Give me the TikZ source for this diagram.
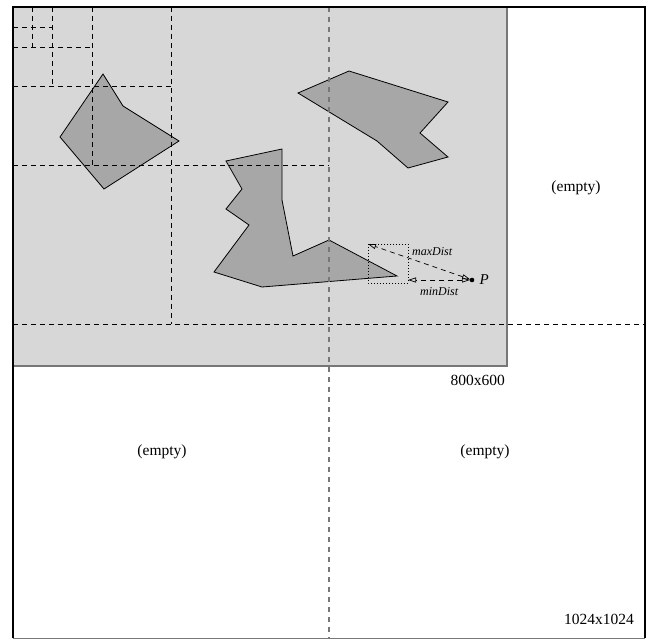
\documentclass[tikz,border=0pt]{standalone}
\usepackage{fontspec}
\setmainfont{Liberation Serif}
\usetikzlibrary{arrows.meta,positioning}
\definecolor{viewgray}{HTML}{D7D7D7}
\definecolor{edgegray}{HTML}{777777}
\definecolor{obstgray}{HTML}{A7A7A7}
\tikzstyle{region} = [font=\fontsize{15.5}{18}\selectfont, inner sep=0pt]
\tikzstyle{obstacle} = [draw=black, fill=obstgray, line width=0.8pt]
\tikzstyle{split} = [draw=black, dash pattern=on 5pt off 4pt, line width=0.8pt]
\tikzstyle{mainsplit} = [draw=edgegray, dash pattern=on 5pt off 5pt, line width=1.8pt]
\tikzstyle{dist} = [dash pattern=on 5pt off 4pt, {Triangle[open,length=8pt,width=5pt]}-{Triangle[open,length=8pt,width=5pt]}, line width=0.7pt]
\tikzstyle{distlabel} = [font=\fontsize{12}{14}\selectfont\itshape, inner sep=1pt]

\begin{document}
\begin{tikzpicture}[x=1pt, y=-1pt]
		\useasboundingbox (0,0) rectangle (651,639);
		% Regions
		\coordinate (topL) at (13,7);
		\coordinate (viewBR) at (507,366);
		\coordinate (worldBR) at (645,638);
		\draw[fill=viewgray, draw=edgegray, line width=1.2pt] (topL) rectangle (viewBR);
		% Obstacles
		\draw[obstacle] (103,74) -- (123,106) -- (179,141) -- (104,189) -- (60,137) -- cycle;
		\draw[obstacle] (226,161) -- (282,149) -- (282,200) -- (293,256) -- (329,240) -- (397,276)
			-- (262,287) -- (214,272) -- (249,225) -- (226,209) -- (242,189) -- cycle;
		\draw[obstacle] (298,93) -- (349,71) -- (448,102) -- (420,133) -- (448,157) -- (408,168)
			-- (377,141) -- cycle;
		% Quadtree splits
		\draw[split] (13,324) -- (645,324);
		\draw[split] (171,7) -- (171,324);
		\draw[split] (13,165) -- (329,165);
		\draw[split] (92,7) -- (92,165);
		\draw[split] (13,86) -- (171,86);
		\draw[split] (52,7) -- (52,86);
		\draw[split] (13,47) -- (92,47);
		\draw[split] (32,7) -- (32,47);
		\draw[split] (13,27) -- (52,27);
		\draw[mainsplit] (329,7) -- (329,638);
		% Outer border
		\draw[edgegray, line width=1pt] (13,638) -- (645,638);
		\draw[line width=2pt] (13,638) -- (topL) -- (645,7) -- (645,638);
		% Distances
		\coordinate (P) at (472,280);
		\coordinate (maxEnd) at (368,244);
		\coordinate (minEnd) at (408,280);
		\draw[dash pattern=on 1pt off 2pt, line width=0.6pt] (maxEnd) rectangle (408,283);
		\fill (P) circle (2.3pt);
		\path
		(P) edge [dist, shorten <=2pt] (maxEnd)
		(P) edge [dist, shorten <=2pt] (minEnd)
		;
		\node[distlabel, anchor=west] (maxLbl) at (411,252) {maxDist};
		\node[distlabel, anchor=west] (minLbl) at (419,292) {minDist};
		\node[font=\fontsize{15}{17}\selectfont\itshape, right=4pt of P] (Plbl) {P};
		% Labels
		\node[region] (e1) at (576,188) {(empty)};
		\node[region] (e2) at (162,452) {(empty)};
		\node[region] (e3) at (485,452) {(empty)};
		\node[region, anchor=north east] (viewLbl) at (505,375) {800x600};
		\node[region, anchor=south east] (worldLbl) at (634,625) {1024x1024};
	\end{tikzpicture}
\end{document}
